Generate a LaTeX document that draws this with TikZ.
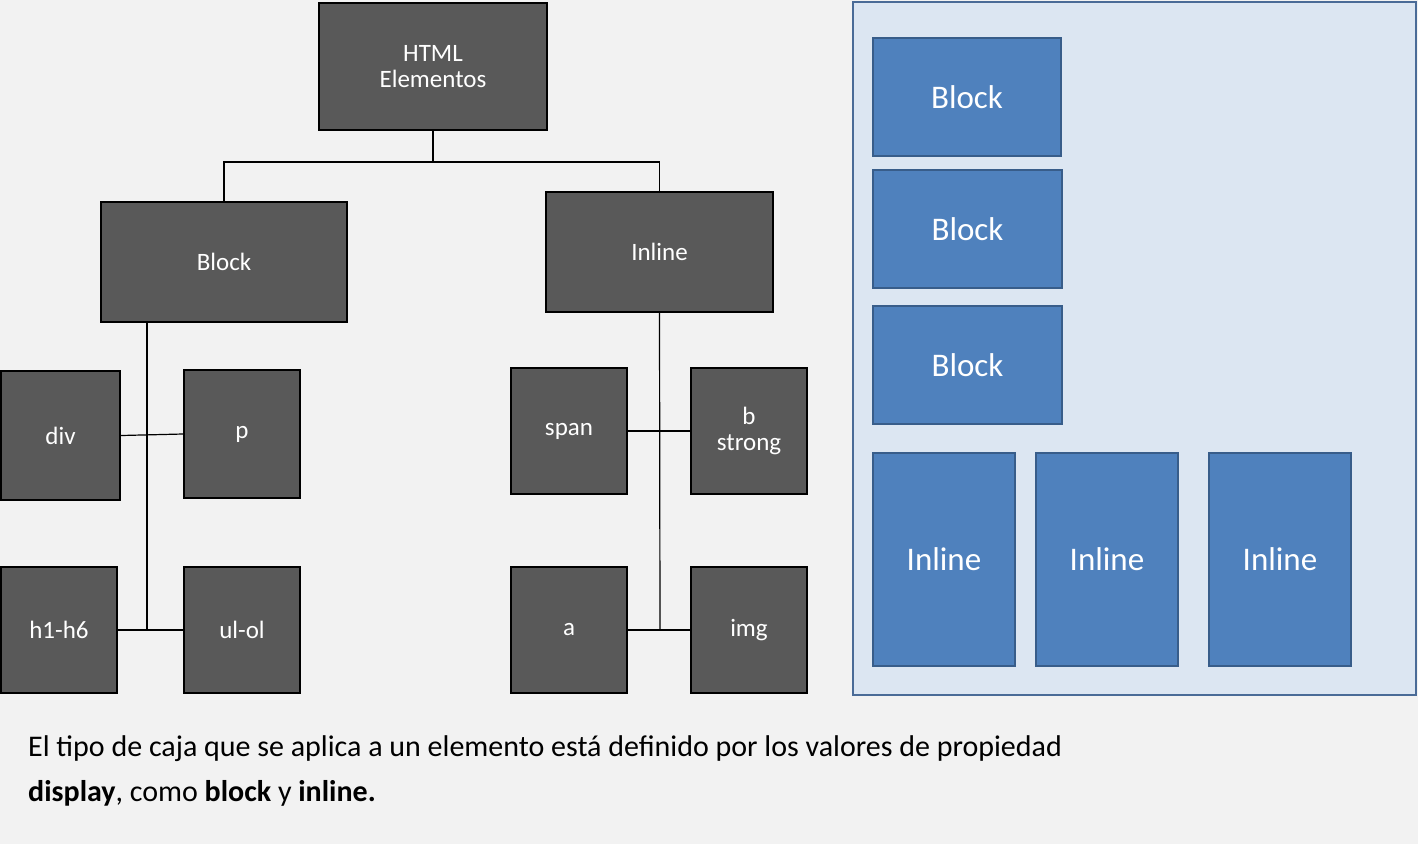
\documentclass[tikz,border=0pt]{standalone}
\usepackage{fontspec}
\setmainfont{Carlito}
\begin{document}
\begin{tikzpicture}[x=1pt,y=-1pt,
 gbox/.style={draw=black,line width=2.2pt,fill=gray1,text=white,font=\fontsize{25}{30}\selectfont,align=center},
 bbox/.style={draw=bd,line width=2.5pt,fill=bf,text=white,font=\fontsize{33}{38}\selectfont,align=center},
 ln/.style={line width=1.2pt}]
\definecolor{gray1}{HTML}{595959}
\definecolor{bg}{HTML}{F2F2F2}
\definecolor{pan}{HTML}{DCE6F2}
\definecolor{panb}{HTML}{4A6B97}
\definecolor{bf}{HTML}{4F81BD}
\definecolor{bd}{HTML}{385D8A}
\fill[bg] (0,0) rectangle (1418,844);
\useasboundingbox (0,0) rectangle (1418,844);
\newcommand{\gb}[6]{\node[gbox,minimum width=#3-#2,minimum height=#5-#4] (#1) at ({(#2+#3)/2},{(#4+#5)/2}) {#6};}
\newcommand{\bb}[6]{\node[bbox,minimum width=#3-#2,minimum height=#5-#4] (#1) at ({(#2+#3)/2},{(#4+#5)/2}) {#6};}
\gb{html}{319}{547}{3}{130}{HTML\\[-4pt]Elementos}
\gb{blk}{101}{347}{202}{322}{Block}
\gb{inl}{546}{773}{192}{312}{Inline}
\gb{div}{1}{120}{371}{500}{div}
\gb{p}{184}{300}{370}{498}{p}
\gb{h}{1}{117}{567}{693}{h1-h6}
\gb{ul}{184}{300}{567}{693}{ul-ol}
\gb{span}{511}{627}{368}{494}{span}
\gb{b}{691}{807}{368}{494}{b\\[-4pt]strong}
\gb{a}{511}{627}{567}{693}{a}
\gb{img}{691}{807}{567}{693}{img}
\coordinate (j) at (433,162);
\draw[ln] (html.south) -- (j);
\draw[ln] (j) -| (blk.north);
\draw[ln] (j) -| (inl.north);
\coordinate (bl) at (147,630);
\coordinate (il) at (660,630);
\draw[ln] (blk.south -| bl) -- (bl);
\draw[ln] (div.east) -- (p.west);
\draw[ln] (h.east) -- (ul.west);
\draw[ln] (inl.south) -- (il);
\draw[ln] (span.east) -- (b.west);
\draw[ln] (a.east) -- (img.west);
\draw[panb,fill=pan,line width=2.5pt] (853,2) rectangle (1416,695);
\bb{b1}{873}{1061}{38}{156}{Block}
\bb{b2}{873}{1062}{170}{288}{Block}
\bb{b3}{873}{1062}{306}{424}{Block}
\bb{i1}{873}{1015}{453}{666}{Inline}
\bb{i2}{1036}{1178}{453}{666}{Inline}
\bb{i3}{1209}{1351}{453}{666}{Inline}
\node[anchor=north west,align=left,font=\fontsize{30}{45}\selectfont,inner sep=0pt] (cap) at (28,735) {El tipo de caja que se aplica a un elemento está definido por los valores de propiedad\\\textbf{display}, como \textbf{block} y \textbf{inline.}};
\end{tikzpicture}
\end{document}
